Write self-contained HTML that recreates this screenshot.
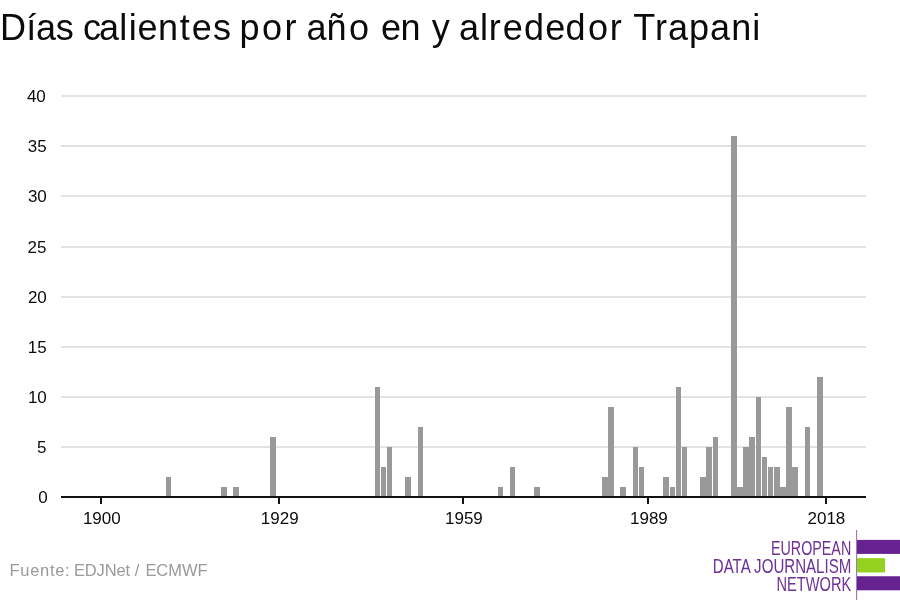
<!DOCTYPE html>
<html lang="es">
<head>
<meta charset="utf-8">
<title>Días calientes por año en y alrededor Trapani</title>
<style>
html,body{margin:0;padding:0;background:#fff;}
body{width:900px;height:600px;overflow:hidden;position:relative;font-family:"Liberation Sans","DejaVu Sans",sans-serif;}
svg{position:absolute;left:0;top:0;display:block;}
.title{font-size:36px;fill:#0b0b0b;}
.tick{font-size:17px;fill:#0b0b0b;}
.src{font-size:16.5px;fill:#9a9a9a;}
.logo{font-size:19.3px;fill:#6e3197;}
</style>
</head>
<body>
<svg width="900" height="600" viewBox="0 0 900 600">
<rect x="0" y="0" width="900" height="600" fill="#ffffff"/>
<text class="title" y="39.5"><tspan x="0.1" letter-spacing="-0.7" dx="0 0.8 0.5 0.3">Días </tspan><tspan x="83.0" letter-spacing="0.6" dx="0 -2.5 -0.5 1 0 0 1 1.5 0.5">calientes </tspan><tspan x="239.5" letter-spacing="2.43">por </tspan><tspan x="306.5" letter-spacing="1.53" dx="0 -1.6 1">año </tspan><tspan x="381.1" letter-spacing="1.48" dx="0 -2">en </tspan><tspan x="431.8" letter-spacing="0">y </tspan><tspan x="458.9" letter-spacing="0.65" dx="0 0.5 0 1.5 0.5 0.5 -0.5 2 1">alrededor </tspan><tspan x="633.3" letter-spacing="1.03">Trapani</tspan></text>

<g shape-rendering="crispEdges" fill="#e3e3e3">
<rect x="61" y="446" width="805" height="2"/>
<rect x="61" y="396" width="805" height="2"/>
<rect x="61" y="346" width="805" height="2"/>
<rect x="61" y="296" width="805" height="2"/>
<rect x="61" y="246" width="805" height="2"/>
<rect x="61" y="195" width="805" height="2"/>
<rect x="61" y="145" width="805" height="2"/>
<rect x="61" y="95" width="805" height="2"/>
</g>
<g class="tick" text-anchor="end">
<text x="45.8" y="102">40</text>
<text x="46.6" y="152">35</text>
<text x="46.8" y="202">30</text>
<text x="46.5" y="253">25</text>
<text x="46.8" y="303">20</text>
<text x="46.6" y="353">15</text>
<text x="46.8" y="403">10</text>
<text x="46.5" y="453">5</text>
<text x="47.8" y="503">0</text>
</g>
<g shape-rendering="crispEdges" fill="#999999">
<rect x="166" y="477" width="5" height="20"/>
<rect x="221" y="487" width="6" height="10"/>
<rect x="233" y="487" width="6" height="10"/>
<rect x="270" y="437" width="6" height="60"/>
<rect x="375" y="387" width="5" height="110"/>
<rect x="381" y="467" width="5" height="30"/>
<rect x="387" y="447" width="5" height="50"/>
<rect x="405" y="477" width="6" height="20"/>
<rect x="418" y="427" width="5" height="70"/>
<rect x="498" y="487" width="5" height="10"/>
<rect x="510" y="467" width="5" height="30"/>
<rect x="534" y="487" width="6" height="10"/>
<rect x="602" y="477" width="6" height="20"/>
<rect x="608" y="407" width="6" height="90"/>
<rect x="620" y="487" width="6" height="10"/>
<rect x="633" y="447" width="5" height="50"/>
<rect x="639" y="467" width="5" height="30"/>
<rect x="663" y="477" width="6" height="20"/>
<rect x="670" y="487" width="5" height="10"/>
<rect x="676" y="387" width="5" height="110"/>
<rect x="682" y="447" width="5" height="50"/>
<rect x="700" y="477" width="6" height="20"/>
<rect x="706" y="447" width="6" height="50"/>
<rect x="713" y="437" width="5" height="60"/>
<rect x="731" y="136" width="6" height="361"/>
<rect x="737" y="487" width="6" height="10"/>
<rect x="743" y="447" width="6" height="50"/>
<rect x="749" y="437" width="6" height="60"/>
<rect x="756" y="397" width="5" height="100"/>
<rect x="762" y="457" width="5" height="40"/>
<rect x="768" y="467" width="5" height="30"/>
<rect x="774" y="467" width="6" height="30"/>
<rect x="780" y="487" width="6" height="10"/>
<rect x="786" y="407" width="6" height="90"/>
<rect x="792" y="467" width="6" height="30"/>
<rect x="805" y="427" width="5" height="70"/>
<rect x="817" y="377" width="6" height="120"/>
</g>
<g shape-rendering="crispEdges" fill="#111111">
<rect x="61" y="496" width="805" height="2"/>
<rect x="100" y="498" width="2" height="6"/>
<rect x="278" y="498" width="2" height="6"/>
<rect x="462" y="498" width="2" height="6"/>
<rect x="647" y="498" width="2" height="6"/>
<rect x="825" y="498" width="2" height="6"/>
</g>
<g class="tick" text-anchor="middle">
<text x="101.8" y="524">1900</text>
<text x="279.7" y="524">1929</text>
<text x="463.9" y="524">1959</text>
<text x="648.9" y="524">1989</text>
<text x="826.4" y="524">2018</text>
</g>
<text class="src" y="575.6"><tspan x="9.6" letter-spacing="0.68">Fuente: </tspan><tspan x="74.0" letter-spacing="-0.15">EDJNet </tspan><tspan x="134.8">/ </tspan><tspan x="145.4" letter-spacing="-0.05">ECMWF</tspan></text>
<g>
<rect x="856" y="530" width="1.15" height="70" fill="#a277bf"/>
<rect x="857" y="539.9" width="43" height="14" fill="#66228e"/>
<rect x="857" y="558.15" width="28" height="14.3" fill="#95d11f"/>
<rect x="857" y="576.25" width="43" height="14.05" fill="#66228e"/>
</g>
<g class="logo" text-anchor="end">
<text x="851.2" y="555.0" textLength="80.2" lengthAdjust="spacingAndGlyphs">EUROPEAN</text>
<text x="851.3" y="573.0" textLength="138.5" lengthAdjust="spacingAndGlyphs">DATA JOURNALISM</text>
<text x="851.3" y="590.6" textLength="74.8" lengthAdjust="spacingAndGlyphs">NETWORK</text>
</g>
</svg>
</body>
</html>
